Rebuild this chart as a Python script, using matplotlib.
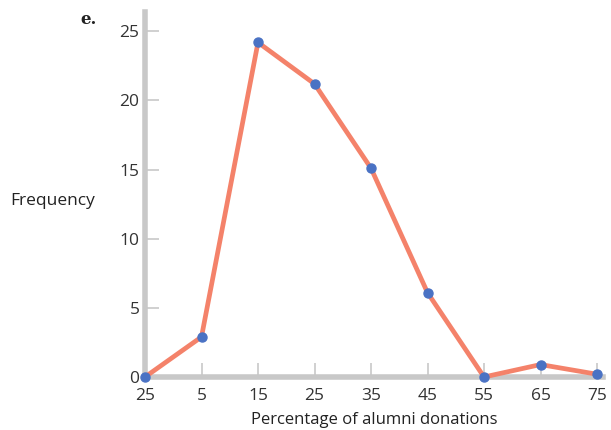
import matplotlib.pyplot as plt
import numpy as np

# data
x_vals = [-5, 5, 15, 25, 35, 45, 55, 65, 75]
freq = [0, 2.9, 24.2, 21.2, 15.1, 6.1, 0, 0.9, 0.2]
x_labels = ["25", "5", "15", "25", "35", "45", "55", "65", "75"]
y_ticks = [0, 5, 10, 15, 20, 25]

plt.rcParams['font.family'] = ['Open Sans', 'DejaVu Sans']

fig = plt.figure(figsize=(6.11, 4.30), dpi=100)
ax = fig.add_axes([145 / 611, 53 / 430, 458 / 611, 365 / 430])

ax.plot(x_vals, freq, "-", linewidth=3.4, color='#f4826a', solid_capstyle='butt', zorder=3, clip_on=False)
ax.plot(x_vals, freq, "o", markersize=6.5, color='#4a72c4', zorder=4, clip_on=False)

ax.set_xlim(-5, 76.06)
ax.set_ylim(0, 26.4)

for s in ['top', 'right']:
    ax.spines[s].set_visible(False)
for s in ['left', 'bottom']:
    ax.spines[s].set_color('#c8c8c8')
    ax.spines[s].set_linewidth(4)
    ax.spines[s].set_zorder(2)

ax.set_xticks(x_vals)
ax.set_xticklabels(x_labels)
ax.set_yticks(y_ticks)
ax.tick_params(direction='in', length=10, width=1.2, color='#c8c8c8', labelsize=12.5,
               labelcolor='#333333', pad=4)
ax.tick_params(axis='x', pad=8)

ax.set_xlabel("Percentage of alumni donations", fontsize=12, color='#222222', labelpad=6)
fig.text(10 / 611, 1 - 201 / 430, "Frequency", fontsize=12.5, color='#222222', va='center', ha='left')
fig.text(80 / 611, 1 - 20 / 430, "e.", fontsize=12, fontweight='bold', family='DejaVu Serif',
         color='#222222', va='center', ha='left')

fig.savefig("out.png", dpi=100)
